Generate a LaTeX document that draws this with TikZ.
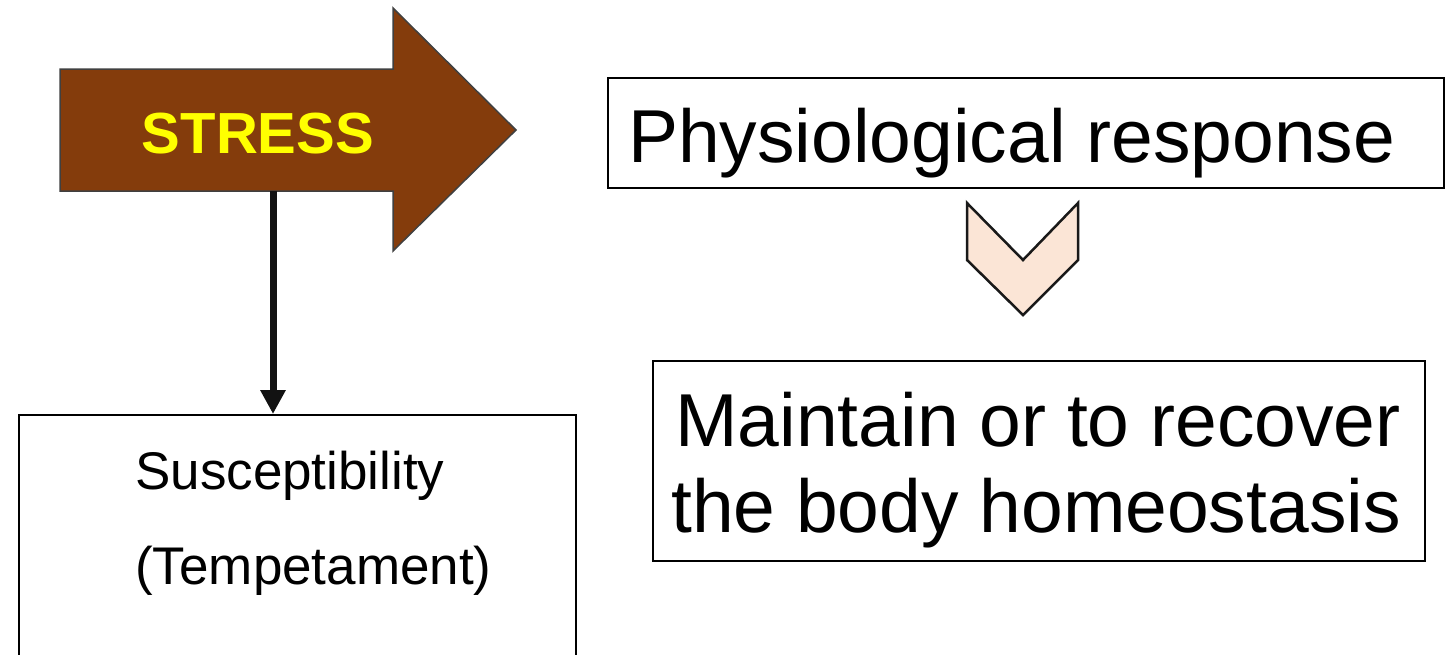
\documentclass[tikz,border=0pt]{standalone}
\usepackage{fontspec}
\setmainfont{Liberation Sans}
\usetikzlibrary{arrows.meta}
\definecolor{stressbrown}{HTML}{843C0C}
\definecolor{stressedge}{HTML}{404040}
\definecolor{stressyellow}{HTML}{FFFF00}
\definecolor{chevfill}{HTML}{FBE5D6}
\tikzset{
  boxframe/.style={draw=black, line width=2pt, fill=white, inner sep=0pt, anchor=north west},
  txt/.style={inner sep=0pt, anchor=base west, text=black},
  bigtxt/.style={txt, font=\fontsize{75}{87}\selectfont},
  midtxt/.style={txt, font=\fontsize{53}{60}\selectfont},
  stresstxt/.style={inner sep=0pt, anchor=base, text=stressyellow, font=\fontsize{58}{68}\selectfont\bfseries},
  bigarrow/.style={fill=stressbrown, draw=stressedge, line width=1.5pt},
  chevron/.style={fill=chevfill, draw=black!90, line width=2.5pt, line join=miter},
  connector/.style={line width=7pt, draw=black!93, -{Triangle[length=24pt,width=24pt]}}
}
\begin{document}
\begin{tikzpicture}[x=1pt,y=-1pt]
\useasboundingbox (0,0) rectangle (1451,654);
\fill[white] (0,0) rectangle (1451,654);
\clip (0,0) rectangle (1451,654);
% big STRESS arrow
\draw[bigarrow] (60,69) -- (393,69) -- (393,8) -- (516,130) -- (393,251) -- (393,191) -- (60,191) -- cycle;
\node[stresstxt] (stress) at (258,153) {STRESS};
\coordinate (stressbottom) at (273,191);
% susceptibility box
\node[boxframe, minimum width=557pt, minimum height=300pt] (sus) at (18,414) {};
\node[midtxt] (sus1) at (135,489) {Susceptibility};
\node[midtxt] (sus2) at (135,584) {(Tempetament)};
\draw[connector] (stressbottom) -- (stressbottom |- sus.north);
% physiological response box
\node[boxframe, minimum width=836pt, minimum height=110pt] (phys) at (607,77) {};
\node[bigtxt] (physt) at (628,162) {Physiological response};
% chevron
\draw[chevron] (967,203) -- (1023,260) -- (1078,203) -- (1078,260) -- (1023,315) -- (967,260) -- cycle;
% maintain box
\node[boxframe, minimum width=772pt, minimum height=200pt] (keep) at (652,360) {};
\node[bigtxt, anchor=base] (keep1) at (1038,446) {Maintain or to recover};
\node[bigtxt, anchor=base] (keep2) at (1036,532) {the body homeostasis};
\end{tikzpicture}
\end{document}
